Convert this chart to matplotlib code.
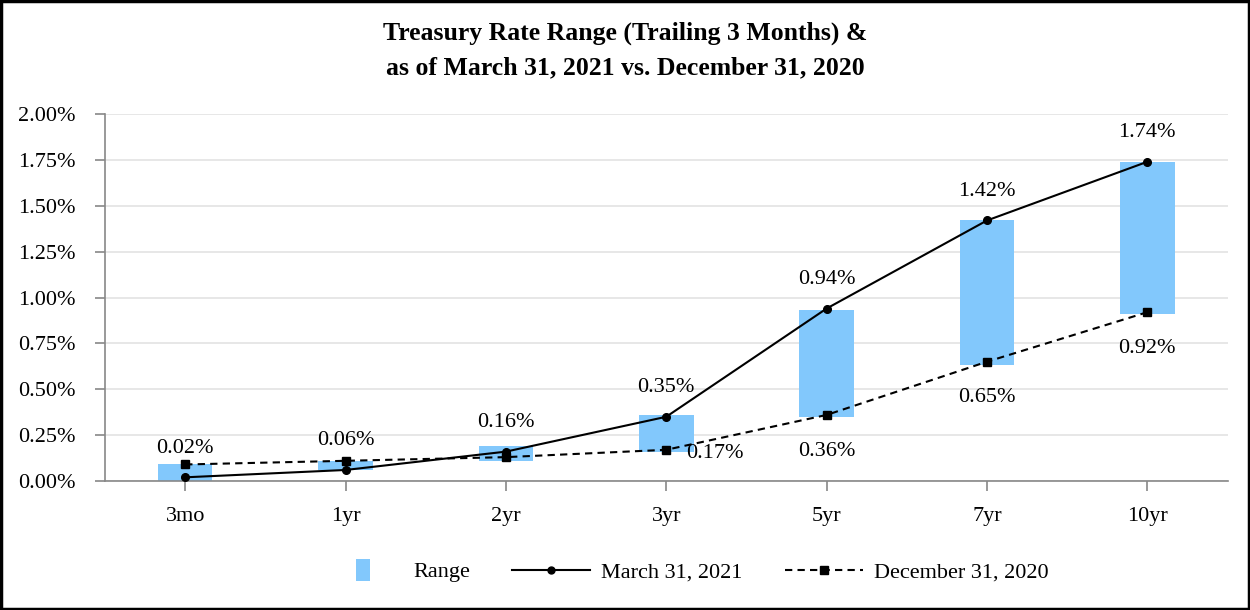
import matplotlib.pyplot as plt
import matplotlib.patches as mpatches
from matplotlib.lines import Line2D
from matplotlib.legend_handler import HandlerPatch
from matplotlib.ticker import FuncFormatter

# data (percent)
tenors = ["3mo", "1yr", "2yr", "3yr", "5yr", "7yr", "10yr"]
range_low = [0.00, 0.06, 0.11, 0.16, 0.35, 0.63, 0.91]
range_high = [0.09, 0.11, 0.19, 0.36, 0.93, 1.42, 1.74]
mar_2021 = [0.02, 0.06, 0.16, 0.35, 0.94, 1.42, 1.74]
dec_2020 = [0.09, 0.11, 0.13, 0.17, 0.36, 0.65, 0.92]
dec_labelled = ["3yr", "5yr", "7yr", "10yr"]

plt.rcParams['font.family'] = ['Liberation Serif', 'DejaVu Serif']


class SmallBox(HandlerPatch):
    # narrow tall swatch, like the original legend
    def create_artists(self, legend, orig_handle, xdescent, ydescent, width, height, fontsize, trans):
        w, h = 10, 16
        r = mpatches.Rectangle((width / 2 - w / 2 - xdescent, height / 2 - h / 2 - ydescent), w, h,
                               facecolor=orig_handle.get_facecolor(), edgecolor='none', transform=trans)
        return [r]


fig = plt.figure(figsize=(12.5, 6.1), dpi=100)
ax = fig.add_axes([0.084, 0.2115, 0.898, 0.6015])

x = list(range(len(tenors)))
heights = [h - l for h, l in zip(range_high, range_low)]
bar_color = '#82C8FC'
dash = (0, (3.5, 2.5))
ax.bar(x, heights, bottom=range_low, width=0.34, color=bar_color, zorder=2)
ax.plot(x, mar_2021, color='black', lw=1.5, marker='o', markersize=5.5, zorder=3)
ax.plot(x, dec_2020, color='black', lw=1.5, ls=dash, marker='s', markersize=6, zorder=3)

# data labels
for i, v in enumerate(mar_2021):
    ax.annotate(f"{v:.2f}%", (i, v), xytext=(0, 21), textcoords='offset points',
                ha='center', va='center', fontsize=16)
for i, v in enumerate(dec_2020):
    if tenors[i] not in dec_labelled:
        continue
    if tenors[i] == "3yr":
        off = (35, -3)
    else:
        off = (0, -26)
    ax.annotate(f"{v:.2f}%", (i, v), xytext=off, textcoords='offset points',
                ha='center', va='center', fontsize=16)

ax.set_xlim(-0.5, 6.5)
ax.set_ylim(0, 2.0)
ax.set_yticks([0, 0.25, 0.5, 0.75, 1.0, 1.25, 1.5, 1.75, 2.0])
ax.yaxis.set_major_formatter(FuncFormatter(lambda v, p: f"{v:.2f}%"))
ax.set_xticks(x)
ax.set_xticklabels(tenors)
ax.tick_params(axis='both', labelsize=16, color='#888888', length=7.5, width=1.2)
ax.tick_params(axis='x', pad=11)
ax.tick_params(axis='y', pad=14)
ax.grid(axis='y', color='#E3E3E3', lw=1.2, zorder=0)
ax.set_axisbelow(True)
for s in ['top', 'right']:
    ax.spines[s].set_visible(False)
for s in ['left', 'bottom']:
    ax.spines[s].set_color('#888888')
    ax.spines[s].set_linewidth(1.2)

fig.text(0.5, 0.945, "Treasury Rate Range (Trailing 3 Months) &", ha='center', va='center',
         fontsize=18.5, fontweight='bold')
fig.text(0.5, 0.889, "as of March 31, 2021 vs. December 31, 2020", ha='center', va='center',
         fontsize=18.5, fontweight='bold')

patch = mpatches.Rectangle((0, 0), 1, 1, facecolor=bar_color)
handles = [
    patch,
    Line2D([], [], color='black', lw=1.5, marker='o', markersize=5),
    Line2D([], [], color='black', lw=1.5, ls=dash, marker='s', markersize=5.5),
]
fig.legend(handles, ["Range", "March 31, 2021", "December 31, 2020"], loc='center',
           bbox_to_anchor=(0.549, 0.062), ncol=3, frameon=False, fontsize=16,
           handlelength=3.5, columnspacing=1.9, handletextpad=0.5,
           handler_map={mpatches.Rectangle: SmallBox()})

# outer frame
fig.patches.append(mpatches.Rectangle((0.001, 0.002), 0.998, 0.996, transform=fig.transFigure,
                                      fill=False, edgecolor='black', lw=2.5))

fig.savefig("out.png", dpi=100)
